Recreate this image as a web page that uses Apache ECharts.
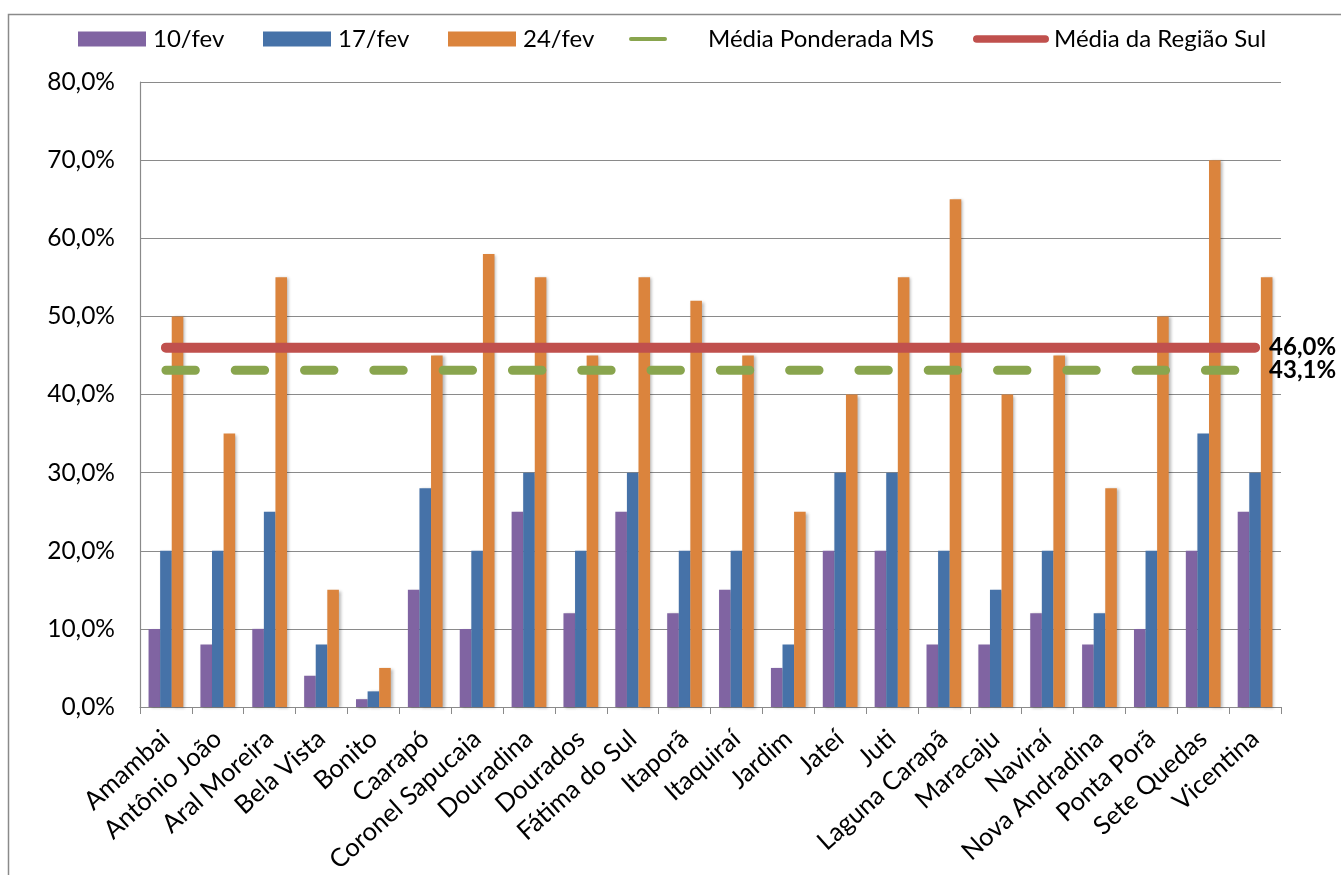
<!DOCTYPE html>
<html>
<head>
<meta charset="utf-8">
<script src="https://cdn.jsdelivr.net/npm/echarts@6/dist/echarts.min.js"></script>
<style>
  html, body { margin: 0; padding: 0; background: #ffffff; }
  #chart { width: 1341px; height: 875px; }
</style>
</head>
<body>
<div id="chart"></div>
<script>
// Municípios e percentuais por data
const municipios = [
  'Amambai', 'Antônio João', 'Aral Moreira', 'Bela Vista', 'Bonito', 'Caarapó',
  'Coronel Sapucaia', 'Douradina', 'Dourados', 'Fátima do Sul', 'Itaporã',
  'Itaquiraí', 'Jardim', 'Jateí', 'Juti', 'Laguna Carapã', 'Maracaju',
  'Naviraí', 'Nova Andradina', 'Ponta Porã', 'Sete Quedas', 'Vicentina'
];
const fev10 = [10, 8, 10, 4, 1, 15, 10, 25, 12, 25, 12, 15, 5, 20, 20, 8, 8, 12, 8, 10, 20, 25];
const fev17 = [20, 20, 25, 8, 2, 28, 20, 30, 20, 30, 20, 20, 8, 30, 30, 20, 15, 20, 12, 20, 35, 30];
const fev24 = [50, 35, 55, 15, 5, 45, 58, 55, 45, 55, 52, 45, 25, 40, 55, 65, 40, 45, 28, 50, 70, 55];
const mediaPonderadaMS = 43.1;
const mediaRegiaoSul = 46.0;
const yTicks = [0, 10, 20, 30, 40, 50, 60, 70, 80];

const FONT = 'Lato';
const fmtPct = v => v.toFixed(1).replace('.', ',') + '%';

const barShadow = {
  shadowColor: 'rgba(0,0,0,0.28)',
  shadowBlur: 3,
  shadowOffsetX: 2,
  shadowOffsetY: 1
};

function barSeries(name, data, color) {
  return {
    name, type: 'bar', data,
    barGap: '0%', barCategoryGap: '33%',
    itemStyle: Object.assign({ color }, barShadow),
    emphasis: { disabled: true },
    z: 2
  };
}

// Linha horizontal de média, com o valor escrito após o último município
function avgSeries(name, value, color, width, dash) {
  return {
    name, type: 'line',
    data: municipios.map(() => value),
    symbol: 'none',
    lineStyle: { color, width, cap: 'round', type: dash || 'solid' },
    itemStyle: { color },
    endLabel: {
      show: true, distance: 14,
      fontFamily: FONT, fontWeight: 'bold', fontSize: 24, color: '#000',
      formatter: p => fmtPct(p.value)
    },
    emphasis: { disabled: true },
    z: 3
  };
}

const pill = 'path://M5,0 H95 A5,5 0 0 1 95,10 H5 A5,5 0 0 1 5,0 Z';
const legendText = { fontFamily: FONT, fontSize: 24, color: '#000' };

function legendItem(name, left, icon, w, h, padLeft) {
  return {
    data: [name], left, top: 27, padding: 0,
    icon, itemWidth: w, itemHeight: h,
    selectedMode: false,
    textStyle: Object.assign({ padding: [0, 0, 0, padLeft] }, legendText)
  };
}

const chart = echarts.init(document.getElementById('chart'), null, { renderer: 'canvas' });
chart.setOption({
  animation: false,
  backgroundColor: '#ffffff',
  graphic: [{
    type: 'rect', silent: true,
    shape: { x: 8.5, y: 14.5, width: 1400, height: 900 },
    style: { fill: 'none', stroke: '#8a8a8a', lineWidth: 1.5 }
  }],
  legend: [
    legendItem('10/fev', 78, 'rect', 68, 15, 2),
    legendItem('17/fev', 263, 'rect', 68, 15, 2),
    legendItem('24/fev', 448, 'rect', 68, 15, 2),
    legendItem('Média Ponderada MS', 629, pill, 38, 9, 36),
    legendItem('Média da Região Sul', 973, pill, 76, 10, 0)
  ],
  grid: { left: 140, right: 60, top: 82, bottom: 168, containLabel: false, outerBoundsMode: 'none' },
  xAxis: {
    type: 'category',
    data: municipios,
    axisLine: { lineStyle: { color: '#8a8a8a', width: 1.2 } },
    axisTick: { show: true, alignWithLabel: false, length: 7, lineStyle: { color: '#8a8a8a' } },
    axisLabel: {
      interval: 0, rotate: 42, margin: 28,
      fontFamily: FONT, fontSize: 25.5, color: '#000'
    }
  },
  yAxis: {
    type: 'value',
    min: yTicks[0], max: yTicks[yTicks.length - 1], interval: yTicks[1] - yTicks[0],
    axisLine: { show: true, lineStyle: { color: '#8a8a8a', width: 1.2 } },
    axisTick: { show: false },
    splitLine: { lineStyle: { color: '#8a8a8a', width: 1.2 } },
    axisLabel: {
      margin: 25, fontFamily: FONT, fontSize: 24.5, color: '#000',
      formatter: v => fmtPct(v)
    }
  },
  series: [
    barSeries('10/fev', fev10, '#8064A2'),
    barSeries('17/fev', fev17, '#4672A8'),
    barSeries('24/fev', fev24, '#DB843D'),
    avgSeries('Média Ponderada MS', mediaPonderadaMS, '#89A54E', 9, [29.4, 39.9]),
    avgSeries('Média da Região Sul', mediaRegiaoSul, '#C0504D', 10)
  ]
});
</script>
</body>
</html>
